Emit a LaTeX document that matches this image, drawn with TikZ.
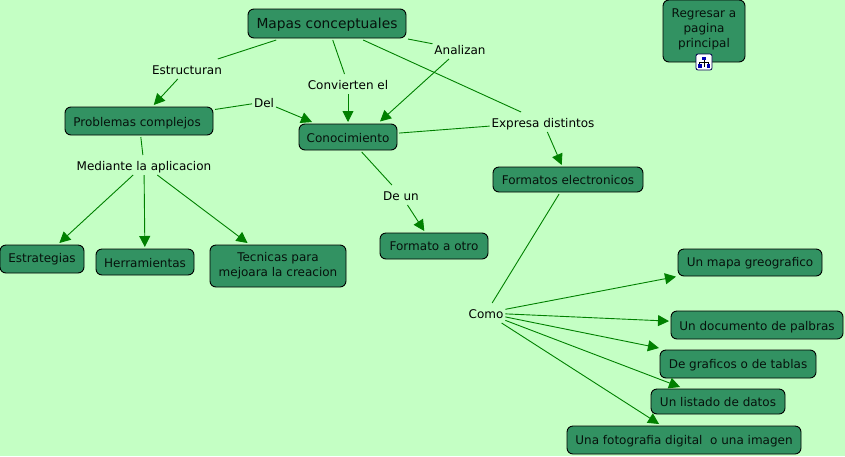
\documentclass[tikz,border=0pt]{standalone}
\usepackage{fontspec}
\setmainfont{DejaVu Sans}
\usetikzlibrary{arrows.meta}
\definecolor{pagebg}{RGB}{196,255,196}
\definecolor{boxfill}{RGB}{50,146,98}
\definecolor{linkgreen}{RGB}{0,128,0}
\newcommand{\bl}{\rule[-3pt]{0pt}{16pt}}
\newcommand{\blmid}{\rule[-3pt]{0pt}{14pt}}
\newcommand{\blhigh}{\rule[-3pt]{0pt}{12pt}}
\tikzset{
  concept/.style={draw=black,line width=0.9pt,fill=boxfill,rounded corners=6pt,inner sep=0pt,outer sep=2pt,align=center,font=\fontsize{12}{15}\selectfont,text=black!88!boxfill},
  phrase/.style={inner sep=0pt,outer sep=2pt,font=\fontsize{12}{14}\selectfont},
  plainlink/.style={draw=linkgreen,line width=0.9pt},
  arrowlink/.style={plainlink,-{Triangle[length=11pt,width=11pt]}},
}
\begin{document}
\begin{tikzpicture}[x=1pt,y=-1pt]
\useasboundingbox (0,0) rectangle (845,456);
\fill[pagebg] (0,0) rectangle (845,456);
% concepts
\node[concept,minimum width=158pt,minimum height=29pt,font=\fontsize{13.8}{18}\selectfont] (mapas) at (327,23.5) {\bl Mapas conceptuales};
\node[concept,minimum width=82pt,minimum height=62pt] (regresar) at (704,31) {Regresar a\\pagina\\principal\\[-10pt]\mbox{}};
\node[concept,minimum width=148pt,minimum height=28pt] (problemas) at (139,121) {\bl Problemas complejos\ };
\node[concept,minimum width=98pt,minimum height=26pt] (conocimiento) at (348,137) {\bl Conocimiento};
\node[concept,minimum width=150pt,minimum height=25pt] (formatos) at (568,179.5) {\bl Formatos electronicos};
\node[concept,minimum width=84pt,minimum height=28pt] (estrategias) at (42,259) {\blhigh Estrategias};
\node[concept,minimum width=98pt,minimum height=26pt] (herramientas) at (145,262) {\bl Herramientas};
\node[concept,minimum width=136pt,minimum height=42pt] (tecnicas) at (278,266) {Tecnicas para\\mejoara la creacion};
\node[concept,minimum width=108pt,minimum height=26pt] (formato) at (434,246) {\blmid Formato a otro};
\node[concept,minimum width=144pt,minimum height=27pt] (unmapa) at (750,262.5) {\blmid Un mapa greografico};
\node[concept,minimum width=172pt,minimum height=28pt] (documento) at (757,325) {\bl Un documento de palbras};
\node[concept,minimum width=156pt,minimum height=28pt] (graficos) at (738,364) {\blmid De graficos o de tablas};
\node[concept,minimum width=134pt,minimum height=25pt] (listado) at (718,401.5) {\bl Un listado de datos};
\node[concept,minimum width=234pt,minimum height=28pt] (foto) at (684,440) {\blmid Una fotografia digital\ \ o una imagen};
% linking phrases
\node[phrase] (estructuran) at (187,69) {\bl Estructuran};
\node[phrase] (convierten) at (348,84) {\bl Convierten el};
\node[phrase] (analizan) at (460,49) {\bl Analizan};
\node[phrase] (del) at (264,102) {\bl Del};
\node[phrase] (expresa) at (543,122) {\bl Expresa distintos};
\node[phrase] (mediante) at (144,165) {\bl Mediante la aplicacion};
\node[phrase] (deun) at (401,195) {\bl De un};
\node[phrase] (como) at (486,313) {\bl Como};
\coordinate (analizantip) at (380,121.5);
% connectors
\draw[plainlink] (mapas) -- (estructuran);
\draw[arrowlink] (estructuran) -- (problemas);
\draw[plainlink] (mapas) -- (convierten);
\draw[arrowlink] (convierten) -- (conocimiento);
\draw[plainlink] (mapas) -- (analizan);
\draw[arrowlink] (analizan) -- (analizantip);
\draw[plainlink] (mapas) -- (expresa);
\draw[plainlink] (problemas) -- (del);
\draw[arrowlink] (del) -- (conocimiento);
\draw[plainlink] (conocimiento) -- (expresa);
\draw[arrowlink] (expresa) -- (formatos);
\draw[plainlink] (problemas) -- (mediante);
\draw[arrowlink] (mediante) -- (estrategias);
\draw[arrowlink] (mediante) -- (herramientas);
\draw[arrowlink] (mediante) -- (tecnicas);
\draw[plainlink] (conocimiento) -- (deun);
\draw[arrowlink] (deun) -- (formato);
\draw[plainlink] (formatos) -- (como);
\draw[arrowlink] (como) -- (unmapa);
\draw[arrowlink] (como) -- (documento);
\draw[arrowlink] (como) -- (graficos);
\draw[arrowlink] (como) -- (listado);
\draw[arrowlink] (como) -- (foto);
% link icon
\begin{scope}[shift={(704,62)}]
\draw[draw=black!70!blue,fill=white,line width=0.8pt,rounded corners=2pt] (-8,-8) rectangle (8,8);
\fill[blue!70!black] (-2,-5.5) rectangle (2,-2);
\fill[blue!70!black] (-6,2) rectangle (-2.5,5.5);
\fill[blue!70!black] (2.5,2) rectangle (6,5.5);
\draw[black,line width=0.7pt] (0,-2) -- (0,0) (-4.2,2) -- (-4.2,0) -- (4.2,0) -- (4.2,2) (0,0) -- (0,5);
\end{scope}
\end{tikzpicture}
\end{document}
